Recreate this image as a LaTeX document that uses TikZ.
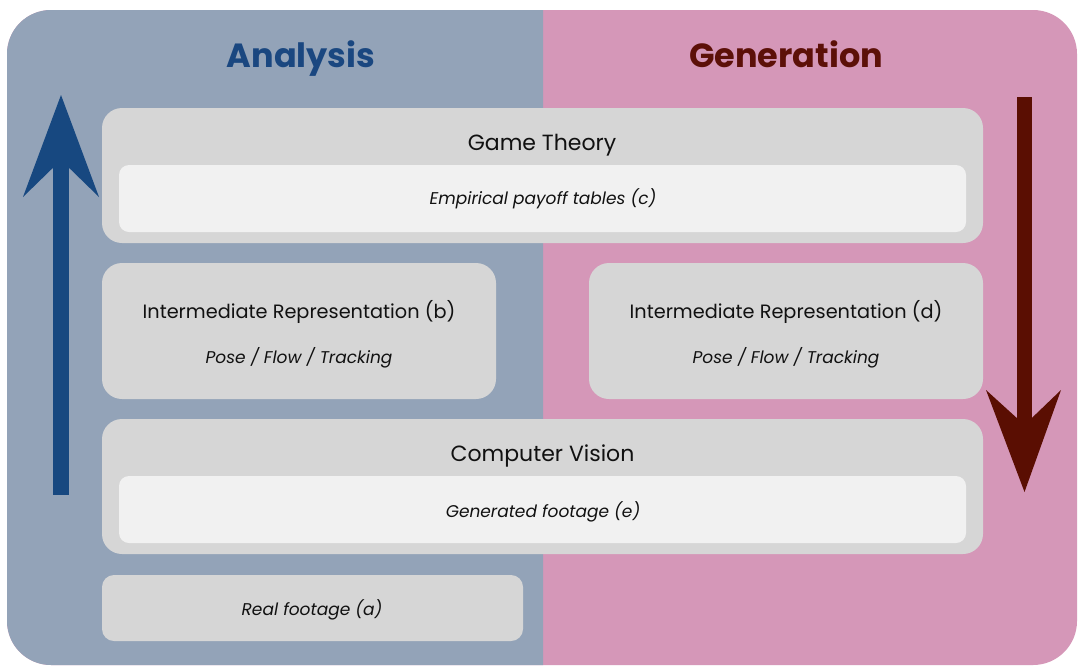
\documentclass[tikz,border=0pt]{standalone}
\usepackage{fontspec}
\setmainfont{Poppins}
\definecolor{panelblue}{HTML}{93A3B8}
\definecolor{panelpink}{HTML}{D597B8}
\definecolor{arrowblue}{HTML}{174880}
\definecolor{arrowred}{HTML}{5A0E02}
\definecolor{headblue}{HTML}{1A4780}
\definecolor{headred}{HTML}{5C1008}
\definecolor{boxgray}{HTML}{D6D6D6}
\definecolor{innergray}{HTML}{F1F1F1}
\definecolor{txt}{HTML}{111111}
\tikzset{
  outerbox/.style={rectangle, fill=boxgray, rounded corners=20pt, inner sep=0pt, draw=none},
  innerbox/.style={rectangle, fill=innergray, rounded corners=10pt, inner sep=0pt, draw=none},
  smallbox/.style={rectangle, fill=boxgray, rounded corners=12pt, inner sep=0pt, draw=none},
  bigtitle/.style={text=txt, font=\fontsize{22}{26}\selectfont, inner sep=0pt, anchor=base},
  midtitle/.style={text=txt, font=\fontsize{19.3}{23}\selectfont, inner sep=0pt, anchor=base},
  subtext/.style={text=txt, font=\fontsize{17}{20}\selectfont\itshape, inner sep=0pt, anchor=base},
  headtext/.style={font=\fontsize{33.5}{38}\selectfont\bfseries, inner sep=0pt, anchor=base}
}
\begin{document}
\begin{tikzpicture}[x=1pt,y=-1pt]
\useasboundingbox (0,0) rectangle (1078,667);
\fill[white] (0,0) rectangle (1078,667);
% panel
\fill[panelpink, rounded corners=44pt] (7,10) rectangle (1077,665);
\begin{scope}
  \clip (0,0) rectangle (543,667);
  \fill[panelblue, rounded corners=44pt] (7,10) rectangle (1077,665);
\end{scope}
% headings
\node[headtext, text=headblue] (hA) at (301,67) {Analysis};
\node[headtext, text=headred] (hG) at (786,67) {Generation};
% arrows
\fill[arrowblue] (53,495) rectangle (69,150);
\fill[arrowblue] (61,95) -- (99,197) -- (61,160) -- (23,197) -- cycle;
\fill[arrowred] (1017,97) rectangle (1032,440);
\fill[arrowred] (1024.5,492) -- (986,390) -- (1024.5,425) -- (1061,390) -- cycle;
% game theory
\node[outerbox, minimum width=881pt, minimum height=135pt] (gt) at (542.5,175.5) {};
\node[bigtitle] (gtT) at (542,150) {Game Theory};
\node[innerbox, minimum width=847pt, minimum height=67pt] (gtI) at (542.5,198.5) {};
\node[subtext] (gtS) at (543,204) {Empirical payoff tables (c)};
% intermediate b
\node[outerbox, minimum width=394pt, minimum height=136pt] (ib) at (299,331) {};
\node[midtitle] (ibT) at (299,318) {Intermediate Representation (b)};
\node[subtext] (ibS) at (299,363) {Pose / Flow / Tracking};
% intermediate d
\node[outerbox, minimum width=394pt, minimum height=136pt] (id) at (786,331) {};
\node[midtitle] (idT) at (786,318) {Intermediate Representation (d)};
\node[subtext] (idS) at (786,363) {Pose / Flow / Tracking};
% computer vision
\node[outerbox, minimum width=881pt, minimum height=135pt] (cv) at (542.5,486.5) {};
\node[bigtitle] (cvT) at (542.5,461) {Computer Vision};
\node[innerbox, minimum width=847pt, minimum height=67pt] (cvI) at (542.5,509.5) {};
\node[subtext] (cvS) at (543,517) {Generated footage (e)};
% real footage
\node[smallbox, minimum width=421pt, minimum height=66pt] (rf) at (312.5,608) {};
\node[subtext] (rfS) at (312,615) {Real footage (a)};
\end{tikzpicture}
\end{document}
